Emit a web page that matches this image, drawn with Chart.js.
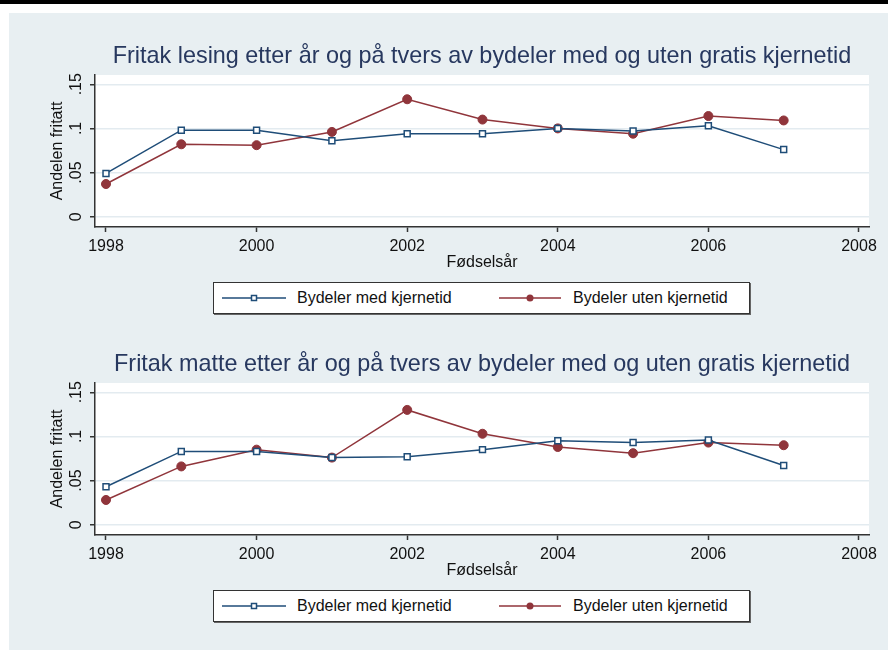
<!DOCTYPE html>
<html>
<head>
<meta charset="utf-8">
<script src="https://cdn.jsdelivr.net/npm/chart.js@4.4.1/dist/chart.umd.min.js"></script>
<style>
  body { margin: 0; background: #fff; width: 888px; height: 650px; position: relative; overflow: hidden; font-family: "Liberation Sans", Arial, sans-serif; }
  #topbar { position: absolute; left: 0; top: 0; width: 888px; height: 4px; background: #000; }
  #panel { position: absolute; left: 9px; top: 13px; width: 879px; height: 637px; background: #e8eff2; }
  .wrap { position: absolute; left: 0; width: 888px; height: 330px; }
  .wrap canvas { position: absolute; left: 0; top: 0; }
  .legend { position: absolute; left: 213px; top: 282px; width: 535px; height: 30px; background: #fff; border: 1px solid #333; box-shadow: 1px 1px 0 #666; }
  .legend svg { position: absolute; top: 9px; }
  .legend span { position: absolute; top: 0; line-height: 30px; font-size: 16px; color: #111; white-space: nowrap; }
</style>
</head>
<body>
<div id="topbar"></div>
<div id="panel"></div>
<div class="wrap" style="top:0px"><canvas id="c1" width="888" height="272"></canvas><div class="legend" id="l1"></div></div>
<div class="wrap" style="top:308px"><canvas id="c2" width="888" height="272"></canvas><div class="legend" id="l2"></div></div>
<script>
// data
var years = [1998, 1999, 2000, 2001, 2002, 2003, 2004, 2005, 2006, 2007];
var lesingMed  = [0.049, 0.098, 0.098, 0.086, 0.094, 0.094, 0.100, 0.097, 0.103, 0.076];
var lesingUten = [0.037, 0.082, 0.081, 0.096, 0.133, 0.110, 0.100, 0.094, 0.114, 0.109];
var matteMed   = [0.043, 0.083, 0.083, 0.076, 0.077, 0.085, 0.095, 0.093, 0.096, 0.067];
var matteUten  = [0.028, 0.066, 0.085, 0.076, 0.130, 0.103, 0.088, 0.081, 0.093, 0.090];

var xTicks = [1998, 2000, 2002, 2004, 2006, 2008];
var yTicks = [0, 0.05, 0.1, 0.15];
var yTickLabels = ["0", ".05", ".1", ".15"];
var seriesNames = ["Bydeler med kjernetid", "Bydeler uten kjernetid"];
var titles = [
  "Fritak lesing etter år og på tvers av bydeler med og uten gratis kjernetid",
  "Fritak matte etter år og på tvers av bydeler med og uten gratis kjernetid"
];

var navy = "#1f4d78";
var maroon = "#90353b";
var axisColor = "#333";
var font = "'Liberation Sans', Arial, sans-serif";

// white plot region behind the lines
var plotBg = {
  id: "plotBg",
  beforeDraw: function (chart) {
    var a = chart.chartArea, ctx = chart.ctx;
    ctx.save();
    ctx.fillStyle = "#fff";
    ctx.fillRect(a.left, a.top, a.right - a.left, a.bottom - a.top);
    ctx.restore();
  }
};

function makeChart(id, title, med, uten) {
  var ctx = document.getElementById(id).getContext("2d");
  return new Chart(ctx, {
    type: "line",
    data: {
      datasets: [
        {
          label: seriesNames[0],
          data: years.map(function (x, i) { return { x: x, y: med[i] }; }),
          borderColor: navy,
          borderWidth: 1.5,
          pointStyle: "rect",
          pointRadius: 4.2,
          pointBorderWidth: 1.5,
          pointBorderColor: navy,
          pointBackgroundColor: "#fff",
        },
        {
          label: seriesNames[1],
          data: years.map(function (x, i) { return { x: x, y: uten[i] }; }),
          borderColor: maroon,
          borderWidth: 1.5,
          pointStyle: "circle",
          pointRadius: 4.5,
          pointBorderWidth: 1,
          pointBorderColor: maroon,
          pointBackgroundColor: maroon,
        },
      ],
    },
    options: {
      responsive: false,
      animation: false,
      layout: { padding: { left: 0, right: 19, top: 0, bottom: 0 } },
      plugins: {
        legend: { display: false },
        tooltip: { enabled: false },
        title: {
          display: true,
          text: title,
          fullSize: false,
          color: "#27385f",
          font: { family: font, size: 23.4, weight: "normal" },
          padding: { top: 43, bottom: 3.9 },
        },
      },
      scales: {
        x: {
          type: "linear",
          min: 1997.854,
          max: 2008.133,
          afterBuildTicks: function (s) { s.ticks = xTicks.map(function (v) { return { value: v }; }); },
          afterFit: function (s) { s.height = 45; },
          grid: { drawOnChartArea: false, tickLength: 5, tickColor: axisColor, tickWidth: 1.5 },
          border: { color: axisColor, width: 1.5 },
          ticks: {
            color: "#111",
            font: { family: font, size: 16 },
            padding: 5,
            maxRotation: 0,
            autoSkip: false,
            callback: function (v) { return String(v); },
          },
          title: {
            display: true,
            text: "Fødselsår",
            color: "#111",
            font: { family: font, size: 16 },
            padding: { top: 0, bottom: 0 },
          },
        },
        y: {
          min: -0.01167,
          max: 0.1605,
          afterBuildTicks: function (s) { s.ticks = yTicks.map(function (v) { return { value: v }; }); },
          afterFit: function (s) { s.width = 95; },
          grid: { color: "#e3ebf0", lineWidth: 1.5, tickLength: 5, tickColor: axisColor, tickWidth: 1.5 },
          border: { color: axisColor, width: 1.5 },
          ticks: {
            color: "#111",
            font: { family: font, size: 16 },
            padding: 2,
            minRotation: 90,
            maxRotation: 90,
            crossAlign: "center",
            callback: function (v) { return yTickLabels[yTicks.indexOf(v)]; },
          },
          title: {
            display: true,
            text: "Andelen fritatt",
            color: "#111",
            font: { family: font, size: 16 },
            padding: { top: 48, bottom: 0 },
          },
        },
      },
    },
    plugins: [plotBg],
  });
}

// legend box in the Stata style: line with marker, then label
function buildLegend(elId, chart) {
  var el = document.getElementById(elId);
  var symLeft = [8, 285], symWidth = [64, 62], textLeft = [83, 359];
  chart.data.datasets.forEach(function (ds, i) {
    var w = symWidth[i], c = ds.borderColor, m = w / 2;
    var marker = ds.pointStyle === "rect"
      ? '<rect x="' + (m - 2.5) + '" y="3.5" width="5" height="5" fill="#fff" stroke="' + c + '" stroke-width="1.5"/>'
      : '<circle cx="' + m + '" cy="6" r="3.5" fill="' + c + '"/>';
    el.innerHTML +=
      '<svg width="' + w + '" height="12" style="left:' + symLeft[i] + 'px">' +
      '<line x1="0" y1="6" x2="' + w + '" y2="6" stroke="' + c + '" stroke-width="1.5"/>' + marker + '</svg>' +
      '<span style="left:' + textLeft[i] + 'px">' + ds.label + '</span>';
  });
}

var chart1 = makeChart("c1", titles[0], lesingMed, lesingUten);
var chart2 = makeChart("c2", titles[1], matteMed, matteUten);
buildLegend("l1", chart1);
buildLegend("l2", chart2);
</script>
</body>
</html>
